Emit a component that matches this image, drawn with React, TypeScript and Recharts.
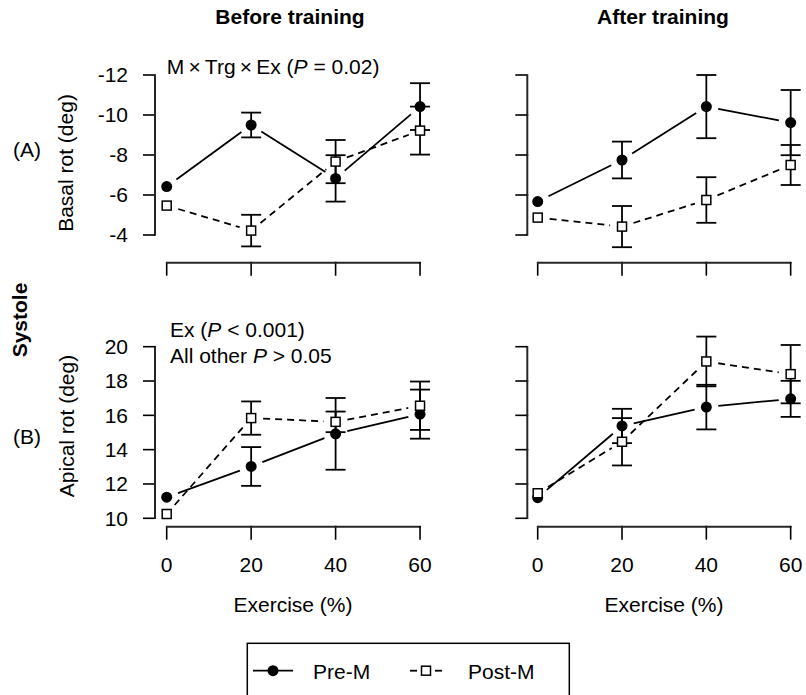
import React from 'react';
import { LineChart, Line, XAxis, YAxis, ErrorBar } from 'recharts';

const exercise = [0, 20, 40, 60];
const xTicks = [0, 20, 40, 60];
const basalTicks = [-12, -10, -8, -6, -4];
const apicalTicks = [10, 12, 14, 16, 18, 20];

const basalBeforePre = [-6.42, -9.5, -6.83, -10.42];
const basalBeforePreErr = [0, 0.62, 1.16, 1.17];
const basalBeforePost = [-5.47, -4.22, -7.67, -9.22];
const basalBeforePostErr = [0, 0.79, 1.08, 1.2];

const basalAfterPre = [-5.67, -7.75, -10.42, -9.62];
const basalAfterPreErr = [0, 0.92, 1.58, 1.63];
const basalAfterPost = [-4.87, -4.42, -5.75, -7.5];
const basalAfterPostErr = [0, 1.03, 1.14, 1.0];

const apicalBeforePre = [11.23, 13.02, 14.92, 16.07];
const apicalBeforePreErr = [0, 1.13, 2.09, 1.43];
const apicalBeforePost = [10.25, 15.84, 15.62, 16.56];
const apicalBeforePostErr = [0, 0.97, 0.6, 1.41];

const apicalAfterPre = [11.2, 15.38, 16.48, 16.96];
const apicalAfterPreErr = [0, 1.0, 1.3, 1.05];
const apicalAfterPost = [11.46, 14.46, 19.14, 18.4];
const apicalAfterPostErr = [0, 1.38, 1.45, 1.7];

const build = (pre: number[], preErr: number[], post: number[], postErr: number[]) =>
  exercise.map((x, i) => ({ x, pre: pre[i], preErr: preErr[i], post: post[i], postErr: postErr[i] }));

const X_TICK = 13;
const X_MARGIN = 17;
const Y_TICK = 12;
const Y_MARGIN = 15;
const FONT = 21;
const GAP = 12;
const LW = 1.8;
const AXW = 2;
const AXIS_INK = '#262626';

type PanelProps = {
  data: any[];
  left: number; top: number; width: number; height: number;
  yAxisWidth: number; marginTop: number; marginRight: number; marginBottom: number; xAxisHeight: number;
  xDomain: [number, number]; yDomain: [number, number]; reversed: boolean; yTicks: number[];
  showYLabels: boolean; showXLabels: boolean;
};

function Panel(p: PanelProps) {
  const plotH = p.height - p.marginTop - p.marginBottom - p.xAxisHeight;
  const plotW = p.width - p.yAxisWidth - p.marginRight;
  const pxY = plotH / (p.yDomain[1] - p.yDomain[0]);
  const pxX = plotW / (p.xDomain[1] - p.xDomain[0]);
  const dirY = p.reversed ? 1 : -1;
  const ySpan = (p.yTicks[1] - p.yTicks[0]) * pxY;
  const xSpan = (xTicks[1] - xTicks[0]) * pxX;

  const renderYTick = (props: any) => {
    const x = Number(props.x);
    const y = Number(props.y);
    const ax = x + Y_MARGIN + Y_TICK;
    const last = Number(props.index) === p.yTicks.length - 1;
    return (
      <g key={`yt${props.index}`}>
        <line x1={ax - Y_TICK} y1={y} x2={ax} y2={y} stroke="#000" strokeWidth={1.6} />
        {!last && <line x1={ax} y1={y - dirY * 0.8} x2={ax} y2={y + dirY * (ySpan + 0.8)} stroke={AXIS_INK} strokeWidth={AXW} />}
        {p.showYLabels && <text x={x} y={y} dy="0.355em" textAnchor="end" fill="#000" fontSize={FONT}>{props.payload.value}</text>}
      </g>
    );
  };

  const renderXTick = (props: any) => {
    const x = Number(props.x);
    const y = Number(props.y);
    const ay = y - X_MARGIN - X_TICK;
    const last = Number(props.index) === xTicks.length - 1;
    return (
      <g key={`xt${props.index}`}>
        <line x1={x} y1={ay - 0.8} x2={x} y2={ay + X_TICK} stroke="#000" strokeWidth={1.6} />
        {!last && <line x1={x - 0.8} y1={ay} x2={x + xSpan + 0.8} y2={ay} stroke={AXIS_INK} strokeWidth={AXW} />}
        {p.showXLabels && <text x={x} y={y} dy="0.71em" textAnchor="middle" fill="#000" fontSize={FONT}>{props.payload.value}</text>}
      </g>
    );
  };

  const segment = (props: any, key: string, dashed: boolean) => {
    const cx = Number(props.cx);
    const cy = Number(props.cy);
    const index = Number(props.index);
    if (!(index > 0)) return null;
    const prev = p.data[index - 1];
    const cur = p.data[index];
    const px = cx - (cur.x - prev.x) * pxX;
    const py = cy - dirY * (cur[key] - prev[key]) * pxY;
    const dx = cx - px;
    const dy = cy - py;
    const L = Math.sqrt(dx * dx + dy * dy);
    if (L <= 2 * GAP) return null;
    const ux = dx / L;
    const uy = dy / L;
    return <line x1={px + ux * GAP} y1={py + uy * GAP} x2={cx - ux * GAP} y2={cy - uy * GAP} stroke="#000" strokeWidth={LW} strokeDasharray={dashed ? '7 5' : undefined} />;
  };

  const PreDot = (props: any) => (
    <g key={`pre${props.index}`}>
      {segment(props, 'pre', false)}
      <circle cx={props.cx} cy={props.cy} r={5.5} fill="#000" />
    </g>
  );
  const PostDot = (props: any) => (
    <g key={`post${props.index}`}>
      {segment(props, 'post', true)}
      <rect x={props.cx - 4.5} y={props.cy - 4.5} width={9} height={9} fill="#fff" stroke="#000" strokeWidth={1.5} />
    </g>
  );

  return (
    <div style={{ position: 'absolute', left: p.left, top: p.top, width: p.width, height: p.height }}>
      <LineChart width={p.width} height={p.height} data={p.data}
        margin={{ top: p.marginTop, right: p.marginRight, bottom: p.marginBottom, left: 0 }}>
        <XAxis type="number" dataKey="x" domain={p.xDomain} allowDataOverflow ticks={xTicks} interval={0}
          axisLine={false} tickLine={false} tickSize={X_TICK} tickMargin={X_MARGIN} tick={renderXTick} height={p.xAxisHeight} />
        <YAxis type="number" domain={p.yDomain} allowDataOverflow reversed={p.reversed} ticks={p.yTicks} interval={0}
          width={p.yAxisWidth} axisLine={false} tickLine={false} tickSize={Y_TICK} tickMargin={Y_MARGIN} tick={renderYTick} />
        <Line dataKey="pre" stroke="none" dot={PreDot} activeDot={false} isAnimationActive={false} />
        <Line dataKey="post" stroke="none" dot={PostDot} activeDot={false} isAnimationActive={false} />
        <Line dataKey="pre" stroke="none" dot={false} activeDot={false} isAnimationActive={false}>
          <ErrorBar dataKey="preErr" width={10} stroke="#000" strokeWidth={LW} direction="y" />
        </Line>
        <Line dataKey="post" stroke="none" dot={false} activeDot={false} isAnimationActive={false}>
          <ErrorBar dataKey="postErr" width={10} stroke="#000" strokeWidth={LW} direction="y" />
        </Line>
      </LineChart>
    </div>
  );
}

const leftX: [number, number] = [-2.771, 62.5];
const rightX: [number, number] = [-2.466, 62.5];
const basalY: [number, number] = [-12.5, -2.615];
const apicalY: [number, number] = [9.51, 21];

export default function App() {
  const F = FONT;
  const times = '\u2009×\u2009';
  return (
    <div style={{ position: 'absolute', left: 0, top: 0, width: 806, height: 695, background: '#fff', fontFamily: '"Liberation Sans", Arial, Helvetica, sans-serif' }}>
      <Panel data={build(basalBeforePre, basalBeforePreErr, basalBeforePost, basalBeforePostErr)}
        left={80} top={40} width={370} height={270} yAxisWidth={75} marginTop={25} marginRight={19.4} marginBottom={7.3} xAxisHeight={40}
        xDomain={leftX} yDomain={basalY} reversed={true} yTicks={basalTicks} showYLabels={true} showXLabels={false} />
      <Panel data={build(basalAfterPre, basalAfterPreErr, basalAfterPost, basalAfterPostErr)}
        left={460} top={40} width={346} height={270} yAxisWidth={67.3} marginTop={25} marginRight={4.8} marginBottom={7.3} xAxisHeight={40}
        xDomain={rightX} yDomain={basalY} reversed={true} yTicks={basalTicks} showYLabels={false} showXLabels={false} />
      <Panel data={build(apicalBeforePre, apicalBeforePreErr, apicalBeforePost, apicalBeforePostErr)}
        left={80} top={310} width={370} height={290} yAxisWidth={75} marginTop={19.54} marginRight={19.4} marginBottom={13.3} xAxisHeight={60}
        xDomain={leftX} yDomain={apicalY} reversed={false} yTicks={apicalTicks} showYLabels={true} showXLabels={true} />
      <Panel data={build(apicalAfterPre, apicalAfterPreErr, apicalAfterPost, apicalAfterPostErr)}
        left={460} top={310} width={346} height={290} yAxisWidth={67.3} marginTop={19.54} marginRight={4.8} marginBottom={13.3} xAxisHeight={60}
        xDomain={rightX} yDomain={apicalY} reversed={false} yTicks={apicalTicks} showYLabels={false} showXLabels={true} />

      <svg width={806} height={695} style={{ position: 'absolute', left: 0, top: 0, pointerEvents: 'none' }}>
        <g fill="#000" fontSize={F}>
          <text x={290} y={24} textAnchor="middle" fontWeight="bold">Before training</text>
          <text x={663} y={24} textAnchor="middle" fontWeight="bold">After training</text>
          <text x={166.7} y={74}>{`M${times}Trg${times}Ex (`}<tspan fontStyle="italic">P</tspan>{' = 0.02)'}</text>
          <text x={170} y={337}>{'Ex ('}<tspan fontStyle="italic">P</tspan>{' < 0.001)'}</text>
          <text x={170} y={363}>{'All other '}<tspan fontStyle="italic">P</tspan>{' > 0.05'}</text>
          <text x={27} y={157} textAnchor="middle">(A)</text>
          <text x={27} y={444} textAnchor="middle">(B)</text>
          <text transform="translate(73,163) rotate(-90)" textAnchor="middle">Basal rot (deg)</text>
          <text transform="translate(74,426) rotate(-90)" textAnchor="middle">Apical rot (deg)</text>
          <text transform="translate(27,320) rotate(-90)" textAnchor="middle" fontWeight="bold">Systole</text>
          <text x={293} y={612} textAnchor="middle">Exercise (%)</text>
          <text x={664} y={612} textAnchor="middle">Exercise (%)</text>
        </g>
        <rect x={247.3} y={643.3} width={322} height={80} fill="none" stroke="#000" strokeWidth={1.5} />
        <line x1={253} y1={670.7} x2={293} y2={670.7} stroke="#000" strokeWidth={LW} />
        <circle cx={273} cy={670.7} r={5.5} fill="#000" />
        <text x={313} y={679} fontSize={F} fill="#000">Pre-M</text>
        <line x1={410} y1={670.7} x2={417} y2={670.7} stroke="#000" strokeWidth={LW} />
        <line x1={435} y1={670.7} x2={442} y2={670.7} stroke="#000" strokeWidth={LW} />
        <rect x={421.5} y={666.2} width={9} height={9} fill="#fff" stroke="#000" strokeWidth={1.5} />
        <text x={468} y={679} fontSize={F} fill="#000">Post-M</text>
      </svg>
    </div>
  );
}
